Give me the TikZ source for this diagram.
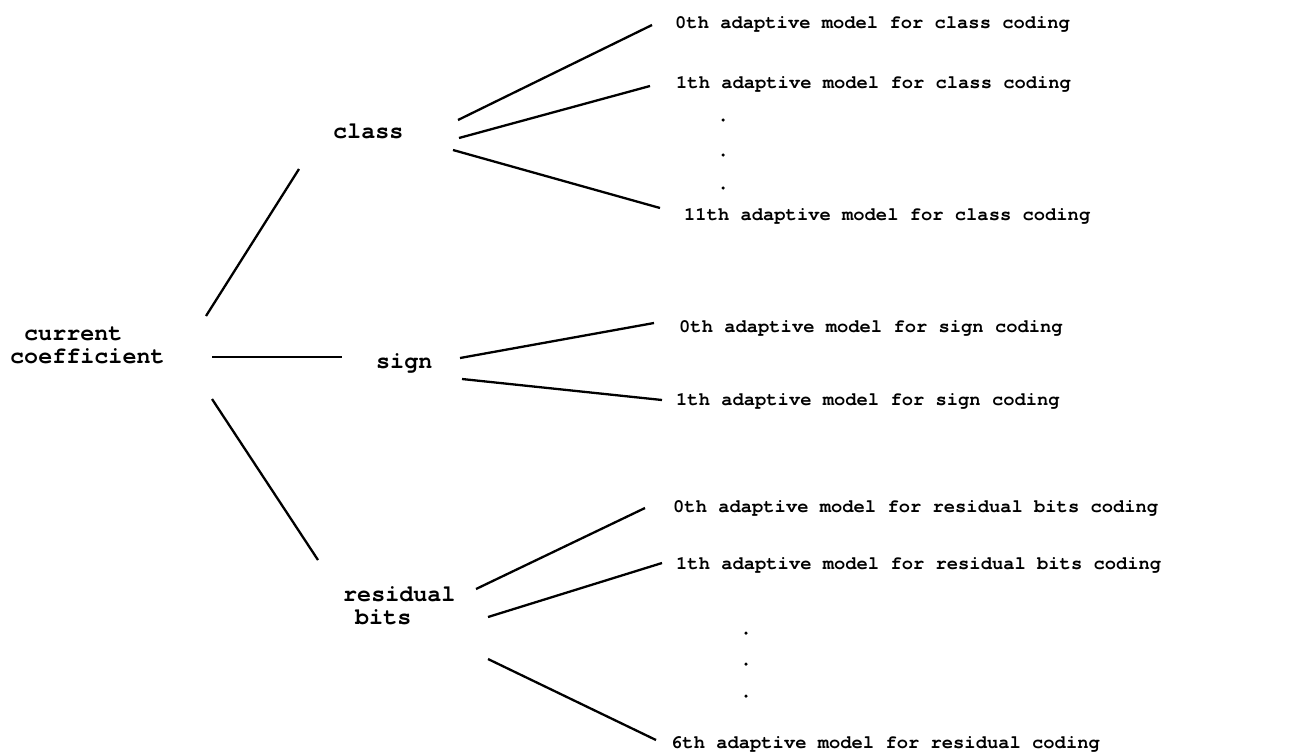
\documentclass[tikz,border=0pt]{standalone}
\usepackage{fontspec}
\setmonofont{TeX Gyre Cursor}[Ligatures={NoCommon}]
\begin{document}
\begin{tikzpicture}[x=1pt,y=-1pt,
  lbl/.style={inner sep=0pt,anchor=base west,font=\ttfamily\bfseries\fontsize{23.4}{23}\selectfont},
  mdl/.style={inner sep=0pt,anchor=base west,font=\ttfamily\bfseries\fontsize{18.8}{22}\selectfont},
  dotm/.style={circle,fill=black,inner sep=0pt,minimum size=3.5pt},
  conn/.style={line width=2.3pt}]
\useasboundingbox (0,0) rectangle (1292,753);
% labels
\node[lbl] (cc) at (10,340) {\begin{tabular}[t]{@{}l@{}}\hspace*{14pt}current\\coefficient\end{tabular}};
\node[lbl] (cls) at (333,138) {class};
\node[lbl] (sgn) at (376,368) {sign};
\node[lbl] (res) at (343,601) {\begin{tabular}[t]{@{}l@{}}residual\\\hspace*{12pt}bits\end{tabular}};
% model texts
\node[mdl] (c0) at (675,28) {0th adaptive model for class coding};
\node[mdl] (c1) at (676,88) {1th adaptive model for class coding};
\node[mdl] (c11) at (684,220) {11th adaptive model for class coding};
\node[dotm] (cd1) at (723,120) {};
\node[dotm] (cd2) at (723,155) {};
\node[dotm] (cd3) at (723,188) {};
\node[mdl] (s0) at (679,332) {0th adaptive model for sign coding};
\node[mdl] (s1) at (676,405) {1th adaptive model for sign coding};
\node[mdl] (r0) at (673,512) {0th adaptive model for residual bits coding};
\node[mdl] (r1) at (676,569) {1th adaptive model for residual bits coding};
\node[dotm] (rd1) at (746,633) {};
\node[dotm] (rd2) at (746,664) {};
\node[dotm] (rd3) at (746,696) {};
\node[mdl] (r6) at (671,748) {6th adaptive model for residual coding};
% connector end points
\coordinate (a1) at (206,316); \coordinate (b1) at (299,169);
\coordinate (a2) at (212,357); \coordinate (b2) at (342,357);
\coordinate (a3) at (212,399); \coordinate (b3) at (318,560);
\coordinate (c0a) at (458,120); \coordinate (c0b) at (652,25);
\coordinate (c1a) at (459,138); \coordinate (c1b) at (650,86);
\coordinate (c11a) at (453,150); \coordinate (c11b) at (660,208);
\coordinate (s0a) at (460,358); \coordinate (s0b) at (654,323);
\coordinate (s1a) at (462,379); \coordinate (s1b) at (662,400);
\coordinate (r0a) at (476,589); \coordinate (r0b) at (645,508);
\coordinate (r1a) at (488,617); \coordinate (r1b) at (662,563);
\coordinate (r6a) at (488,659); \coordinate (r6b) at (656,740);
\draw[conn] (a1) -- (b1);
\draw[conn] (a2) -- (b2);
\draw[conn] (a3) -- (b3);
\draw[conn] (c0a) -- (c0b);
\draw[conn] (c1a) -- (c1b);
\draw[conn] (c11a) -- (c11b);
\draw[conn] (s0a) -- (s0b);
\draw[conn] (s1a) -- (s1b);
\draw[conn] (r0a) -- (r0b);
\draw[conn] (r1a) -- (r1b);
\draw[conn] (r6a) -- (r6b);
\end{tikzpicture}
\end{document}
